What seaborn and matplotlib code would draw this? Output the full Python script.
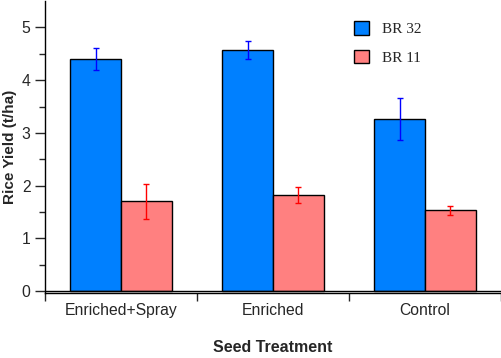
import matplotlib
matplotlib.use("Agg")
import matplotlib.pyplot as plt
import matplotlib.patches as mpatches
import numpy as np
import pandas as pd
import seaborn as sns

# yield data (t/ha), mean and error half-width
treatments = ["Enriched+Spray", "Enriched", "Control"]
varieties = ["BR 32", "BR 11"]
br32_mean = [4.40, 4.58, 3.27]
br32_err = [0.20, 0.17, 0.40]
br11_mean = [1.70, 1.83, 1.53]
br11_err = [0.34, 0.15, 0.08]

bar_colors = {"BR 32": "#0080FF", "BR 11": "#FF8080"}
err_colors = {"BR 32": "#0000FF", "BR 11": "#FF0000"}

df = pd.DataFrame({
    "treatment": treatments * 2,
    "variety": ["BR 32"] * 3 + ["BR 11"] * 3,
    "yield": br32_mean + br11_mean,
    "err": br32_err + br11_err,
})

sns.set_style("white")
plt.rcParams['font.family'] = ['Liberation Sans', 'DejaVu Sans']

fig = plt.figure(figsize=(5.02, 3.58), dpi=100)
ax = fig.add_axes([45 / 502, 1 - 293.3 / 358, 456 / 502, 292.3 / 358])

sns.barplot(data=df, x="treatment", y="yield", hue="variety",
            hue_order=varieties, order=treatments, palette=bar_colors,
            width=2 / 3, gap=0, edgecolor="black", linewidth=1.0,
            errorbar=None, saturation=1, legend=False, ax=ax)

# error bars on top of each bar, positioned from the bar patches
for cont, var in zip(ax.containers, varieties):
    sub = df[df["variety"] == var].set_index("treatment").loc[treatments]
    xs = [p.get_x() + p.get_width() / 2 for p in cont.patches]
    ax.errorbar(xs, sub["yield"], yerr=sub["err"], fmt="none",
                ecolor=err_colors[var], elinewidth=1.0, capsize=2,
                capthick=1.0, zorder=5)

ax.axhline(0, color="black", lw=1.0, zorder=6)

ax.set_xlim(-0.5, 2.5)
ax.set_ylim(-0.04, 5.5)
ax.set_yticks(np.arange(0, 6, 1))
ax.set_yticks(np.arange(0.5, 5.5, 1), minor=True)
ax.set_xticks(np.arange(-0.5, 3.0, 1), minor=True)

for s in ["top", "right"]:
    ax.spines[s].set_visible(False)
for s in ["left", "bottom"]:
    ax.spines[s].set_linewidth(1.0)
    ax.spines[s].set_color("black")

ax.tick_params(axis="y", which="major", direction="out", length=7.5,
               width=1.0, pad=3, labelsize=11.3, left=True)
ax.tick_params(axis="y", which="minor", direction="out", length=4.5,
               width=1.0, left=True)
ax.tick_params(axis="x", which="major", length=0, pad=7, labelsize=11.3)
ax.tick_params(axis="x", which="minor", direction="out", length=6,
               width=1.0, bottom=True)

ax.set_xlabel("Seed Treatment", fontsize=11.5, fontweight="bold", labelpad=16)
ax.set_ylabel("Rice Yield (t/ha)", fontsize=11, fontweight="bold", labelpad=3)

handles = [mpatches.Patch(facecolor=bar_colors[v], edgecolor="black", lw=1.0)
           for v in varieties]
leg = fig.legend(handles, varieties, loc="upper left",
                 bbox_to_anchor=(354 / 502, 1 - 21 / 358), frameon=False,
                 handlelength=1.0, handleheight=1.0, handletextpad=0.8,
                 labelspacing=0.9, borderpad=0, borderaxespad=0,
                 prop={"family": "Liberation Serif", "size": 11})

fig.savefig("out.png", dpi=100)
